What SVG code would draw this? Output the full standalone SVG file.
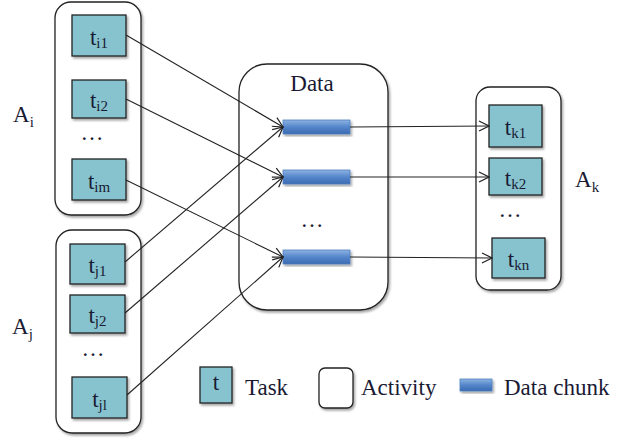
<svg xmlns="http://www.w3.org/2000/svg" width="618" height="441" viewBox="0 0 618 441">
<defs>
<linearGradient id="chunkGrad" x1="0" y1="0" x2="0" y2="1">
<stop offset="0" stop-color="#8db3e2"/>
<stop offset="0.5" stop-color="#5586cb"/>
<stop offset="1" stop-color="#3a6ab0"/>
</linearGradient>
<marker id="arr" markerWidth="12" markerHeight="12" refX="11" refY="6" orient="auto" markerUnits="userSpaceOnUse">
<path d="M1,1 L11,6 L1,11" fill="none" stroke="#222" stroke-width="1.2"/>
</marker>
<filter id="sh" x="-20%" y="-20%" width="140%" height="140%">
<feDropShadow dx="1.5" dy="2" stdDeviation="1.2" flood-color="#000" flood-opacity="0.35"/>
</filter>
</defs>
<style>
.act{fill:#fff;stroke:#222;stroke-width:1.3;filter:url(#sh)}
.task{fill:#86c3cf;stroke:#222;stroke-width:1.3;filter:url(#sh)}
.chunk{fill:url(#chunkGrad);stroke:#4f81bd;stroke-width:0.8;filter:url(#sh)}
.txt{font-family:"Liberation Serif","Times New Roman",serif;font-size:23px;fill:#1a1a33}
.sub{font-size:15px}
.conn{fill:none;stroke:#222;stroke-width:1.1;marker-end:url(#arr)}
</style>
<rect width="618" height="441" fill="#fff"/>

<g id="activity-Ai">
<rect class="act" x="55" y="2" width="86" height="213" rx="16"/>
<text class="txt" x="13" y="122">A<tspan class="sub" dy="5">i</tspan></text>
<text class="txt" x="92" y="140" text-anchor="middle">…</text>
</g>
<g id="task-ti1"><rect class="task" x="72" y="15" width="54" height="41"/><text class="txt" x="99" y="45" text-anchor="middle">t<tspan class="sub" dy="3">i1</tspan></text></g>
<g id="task-ti2"><rect class="task" x="72" y="80" width="54" height="38"/><text class="txt" x="99" y="108" text-anchor="middle">t<tspan class="sub" dy="3">i2</tspan></text></g>
<g id="task-tim"><rect class="task" x="72" y="159" width="54" height="41"/><text class="txt" x="99" y="189" text-anchor="middle">t<tspan class="sub" dy="3">im</tspan></text></g>

<g id="activity-Aj">
<rect class="act" x="56" y="230" width="85" height="203" rx="16"/>
<text class="txt" x="12" y="334">A<tspan class="sub" dy="5">j</tspan></text>
<text class="txt" x="93" y="356" text-anchor="middle">…</text>
</g>
<g id="task-tj1"><rect class="task" x="70" y="244" width="55" height="40"/><text class="txt" x="97.5" y="273" text-anchor="middle">t<tspan class="sub" dy="3">j1</tspan></text></g>
<g id="task-tj2"><rect class="task" x="70" y="295" width="55" height="38"/><text class="txt" x="97.5" y="323" text-anchor="middle">t<tspan class="sub" dy="3">j2</tspan></text></g>
<g id="task-tjl"><rect class="task" x="72" y="377" width="55" height="41"/><text class="txt" x="99.5" y="407" text-anchor="middle">t<tspan class="sub" dy="3">jl</tspan></text></g>

<g id="activity-Data">
<rect class="act" x="239" y="64" width="149" height="246" rx="28"/>
<text class="txt" x="312" y="91" text-anchor="middle">Data</text>
<text class="txt" x="312" y="227" text-anchor="middle">…</text>
</g>
<g id="chunk-1"><rect class="chunk" x="283" y="120" width="67" height="14"/></g>
<g id="chunk-2"><rect class="chunk" x="283" y="170" width="67" height="14"/></g>
<g id="chunk-3"><rect class="chunk" x="283" y="250" width="67" height="14"/></g>

<g id="activity-Ak">
<rect class="act" x="476" y="87" width="85" height="203" rx="14"/>
<text class="txt" x="575" y="187">A<tspan class="sub" dy="5">k</tspan></text>
<text class="txt" x="510" y="217" text-anchor="middle">…</text>
</g>
<g id="task-tk1"><rect class="task" x="489" y="105" width="53" height="42"/><text class="txt" x="515.5" y="135" text-anchor="middle">t<tspan class="sub" dy="3">k1</tspan></text></g>
<g id="task-tk2"><rect class="task" x="489" y="158" width="53" height="37"/><text class="txt" x="515.5" y="186" text-anchor="middle">t<tspan class="sub" dy="3">k2</tspan></text></g>
<g id="task-tkn"><rect class="task" x="492" y="238" width="53" height="40"/><text class="txt" x="518.5" y="267" text-anchor="middle">t<tspan class="sub" dy="3">kn</tspan></text></g>

<g id="connectors">
<line class="conn" x1="126" y1="35" x2="283" y2="127"/>
<line class="conn" x1="126" y1="99" x2="283" y2="177"/>
<line class="conn" x1="126" y1="180" x2="283" y2="257"/>
<line class="conn" x1="125" y1="262" x2="283" y2="127"/>
<line class="conn" x1="125" y1="313" x2="283" y2="177"/>
<line class="conn" x1="127" y1="395" x2="283" y2="257"/>
<line class="conn" x1="350" y1="127" x2="489" y2="126"/>
<line class="conn" x1="350" y1="177" x2="489" y2="177"/>
<line class="conn" x1="350" y1="257" x2="492" y2="258"/>
</g>

<g id="legend">
<rect class="task" x="200" y="367" width="32" height="36"/>
<text class="txt" x="216" y="390" text-anchor="middle">t</text>
<text class="txt" x="245" y="395">Task</text>
<rect class="act" x="319" y="368" width="34" height="40" rx="6"/>
<text class="txt" x="361" y="395">Activity</text>
<rect class="chunk" x="460" y="379" width="32" height="12"/>
<text class="txt" x="504" y="395">Data chunk</text>
</g>
</svg>
